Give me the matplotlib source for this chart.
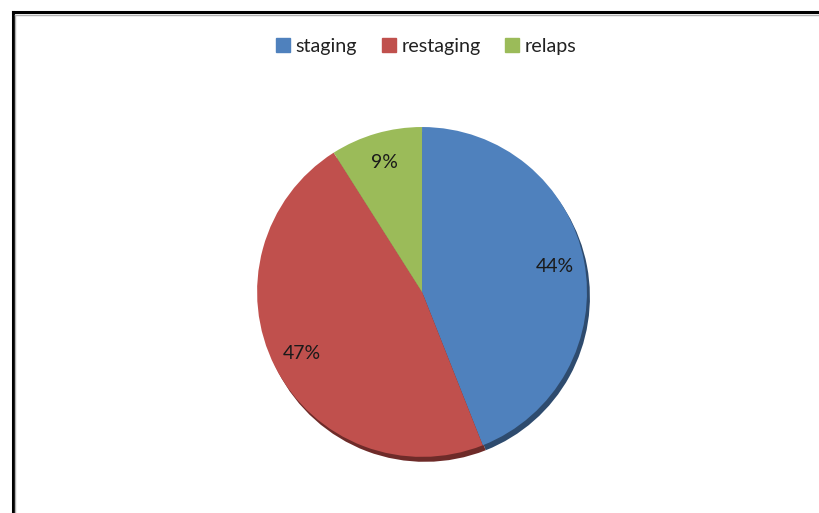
import matplotlib

matplotlib.use('Agg')

import matplotlib.pyplot as plt
from matplotlib.lines import Line2D

# Data
categories = ["staging", "restaging", "relaps"]
shares = [44, 47, 9]

COLORS = ["#4F81BD", "#C0504D", "#9BBB59"]
SHADOW = ["#2E4B6E", "#6E2B29", "#5A6E33"]

plt.rcParams['font.family'] = ['Lato', 'DejaVu Sans']

fig = plt.figure(figsize=(8.19, 5.13), dpi=100)
fig.patch.set_facecolor('white')

ax = fig.add_axes([0.3138, 0.1094, 0.403, 0.643])

# soft shadow under the pie
ax.pie(shares, colors=SHADOW, startangle=90, counterclock=False,
       radius=1.0, center=(0.018, -0.03), wedgeprops=dict(linewidth=0))

wedges, _, autotexts = ax.pie(
    shares, colors=COLORS, startangle=90, counterclock=False,
    radius=1.0, autopct='%d%%', pctdistance=0.82,
    wedgeprops=dict(linewidth=0),
    textprops=dict(fontsize=14, color='#1a1a1a'))

ax.set_xlim(-1.0, 1.0)
ax.set_ylim(-1.0, 1.0)
ax.set_aspect('equal')
ax.axis('off')

# legend across the top
handles = [Line2D([], [], marker='s', linestyle='none', markersize=9.5,
                  markerfacecolor=c, markeredgecolor=c) for c in COLORS]
fig.legend(handles, categories, loc='center', bbox_to_anchor=(0.520, 0.909),
           ncol=3, frameon=False, fontsize=14.2, handletextpad=0.25,
           columnspacing=1.2, handlelength=0.8, labelcolor='#222222')

# chart-area border (left and top edges visible)
x0 = 12.5 / 819
y0 = 1 - 12 / 513
fig.add_artist(Line2D([x0, x0], [0, y0], color='black', linewidth=2.2,
                      transform=fig.transFigure))
fig.add_artist(Line2D([x0, 1], [y0, y0], color='black', linewidth=2.2,
                      transform=fig.transFigure))
x1 = 15 / 819
y1 = 1 - 14.5 / 513
fig.add_artist(Line2D([x1, x1], [0, y1], color='#b0b0b0', linewidth=1,
                      transform=fig.transFigure))
fig.add_artist(Line2D([x1, 1], [y1, y1], color='#b0b0b0', linewidth=1,
                      transform=fig.transFigure))

fig.savefig('out.png', dpi=100, facecolor='white')
plt.close(fig)
